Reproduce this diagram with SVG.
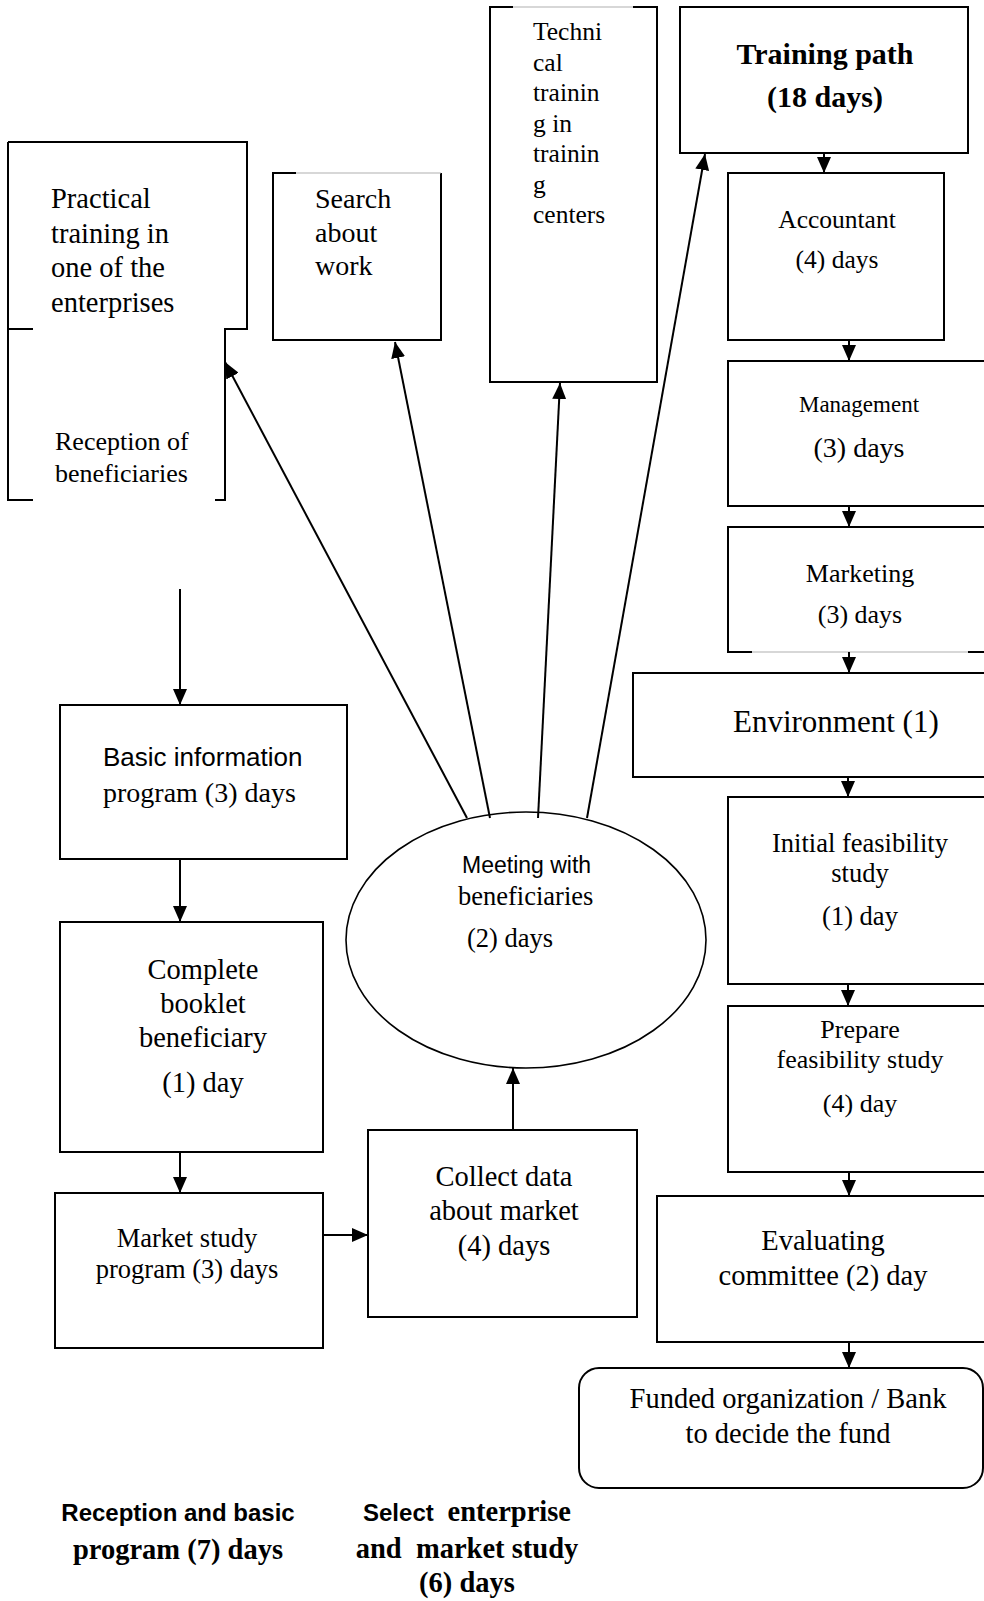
<svg xmlns="http://www.w3.org/2000/svg" width="984" height="1601" viewBox="0 0 984 1601">
<style>
.bx{fill:#fff;stroke:#000;stroke-width:2}
.ln{fill:none;stroke:#000;stroke-width:2}
.gl{fill:none;stroke:#b0b0b0;stroke-width:1.2}
.ar{fill:none;stroke:#000;stroke-width:2;marker-end:url(#ah)}
.s{font-family:"Liberation Serif","Times New Roman",serif;fill:#000}
.ss{font-family:"Liberation Sans",Arial,sans-serif;fill:#000}
.c{text-anchor:middle}
</style>
<defs>
<marker id="ah" viewBox="0 0 16 14" refX="16" refY="7" markerWidth="16" markerHeight="14" markerUnits="userSpaceOnUse" orient="auto">
<path d="M0,0 L16,7 L0,14 z" fill="#000"/>
</marker>
</defs>
<rect width="984" height="1601" fill="#fff"/>

<g id="practical-reception">
<path class="ln" d="M8,142 H247 V329 H225 V500 H215"/>
<path class="ln" d="M8,142 V500 H33"/>
<path class="ln" d="M8,329 H33"/>
<text class="s" font-size="28.5" x="51"><tspan x="51" y="208">Practical</tspan><tspan x="51" y="243">training in</tspan><tspan x="51" y="277">one of the</tspan><tspan x="51" y="312">enterprises</tspan></text>
<text class="s" font-size="26" x="55"><tspan x="55" y="450">Reception of</tspan><tspan x="55" y="482">beneficiaries</tspan></text>
</g>

<g id="search">
<path class="ln" d="M296,173 H273 V340 H441 V173"/>
<path class="gl" d="M296,173 H441"/>
<text class="s" font-size="28"><tspan x="315" y="208">Search</tspan><tspan x="315" y="242">about</tspan><tspan x="315" y="275">work</tspan></text>
</g>

<g id="technical">
<path class="ln" d="M513,7 H490 V382 H657 V7 H633"/>
<path class="gl" d="M513,7 H633"/>
<text class="s" font-size="25.5"><tspan x="533" y="40">Techni</tspan><tspan x="533" y="70.5">cal</tspan><tspan x="533" y="101">trainin</tspan><tspan x="533" y="131.5">g in</tspan><tspan x="533" y="162">trainin</tspan><tspan x="533" y="192.5">g</tspan><tspan x="533" y="223">centers</tspan></text>
</g>

<g id="training-path">
<rect class="bx" x="680" y="7" width="288" height="146"/>
<text class="s c" font-size="30" font-weight="bold"><tspan x="825" y="64">Training path</tspan><tspan x="825" y="107">(18 days)</tspan></text>
</g>

<g id="accountant">
<rect class="bx" x="728" y="173" width="216" height="167"/>
<text class="s c" font-size="25.5"><tspan x="837" y="228">Accountant</tspan><tspan x="837" y="268">(4) days</tspan></text>
</g>

<g id="management">
<rect class="bx" x="728" y="361" width="270" height="145"/>
<text class="s c" font-size="23" x="859" y="412">Management</text>
<text class="s c" font-size="28" x="859" y="457">(3) days</text>
</g>

<g id="marketing">
<path class="ln" d="M752,652 H728 V527 H998"/>
<path class="ln" d="M968,652 H998"/>
<path class="gl" d="M752,652 H968"/>
<text class="s c" font-size="26"><tspan x="860" y="582">Marketing</tspan><tspan x="860" y="623">(3) days</tspan></text>
</g>

<g id="environment">
<rect class="bx" x="633" y="673" width="365" height="104"/>
<text class="s" font-size="31" x="733" y="732">Environment (1)</text>
</g>

<g id="initial-feasibility">
<rect class="bx" x="728" y="797" width="270" height="187"/>
<text class="s c" font-size="26.5"><tspan x="860" y="852">Initial feasibility</tspan><tspan x="860" y="882">study</tspan><tspan x="860" y="925">(1) day</tspan></text>
</g>

<g id="prepare-feasibility">
<rect class="bx" x="728" y="1006" width="270" height="166"/>
<text class="s c" font-size="26"><tspan x="860" y="1038">Prepare</tspan><tspan x="860" y="1068">feasibility study</tspan><tspan x="860" y="1112">(4) day</tspan></text>
</g>

<g id="evaluating">
<rect class="bx" x="657" y="1196" width="341" height="146"/>
<text class="s c" font-size="28.5"><tspan x="823" y="1250">Evaluating</tspan><tspan x="823" y="1285">committee (2) day</tspan></text>
</g>

<g id="funded">
<rect class="bx" x="579" y="1368" width="404" height="120" rx="20" ry="20"/>
<text class="s c" font-size="28.5"><tspan x="788" y="1408">Funded organization / Bank</tspan><tspan x="788" y="1443">to decide the fund</tspan></text>
</g>

<g id="meeting">
<ellipse fill="#fff" stroke="#000" stroke-width="1.6" cx="526" cy="940" rx="180" ry="128"/>
<text class="ss" font-size="23" x="462" y="873">Meeting with</text>
<text class="s" font-size="26.5" x="458" y="905">beneficiaries</text>
<text class="s" font-size="26.5" x="467" y="947">(2) days</text>
</g>

<g id="basic-information">
<rect class="bx" x="60" y="705" width="287" height="154"/>
<text class="ss" font-size="26" x="103" y="766">Basic information</text>
<text class="s" font-size="28" x="103" y="802">program (3) days</text>
</g>

<g id="complete-booklet">
<rect class="bx" x="60" y="922" width="263" height="230"/>
<text class="s c" font-size="28.5"><tspan x="203" y="979">Complete</tspan><tspan x="203" y="1013">booklet</tspan><tspan x="203" y="1047">beneficiary</tspan><tspan x="203" y="1092">(1) day</tspan></text>
</g>

<g id="market-study">
<rect class="bx" x="55" y="1193" width="268" height="155"/>
<text class="s c" font-size="26.5"><tspan x="187" y="1247">Market study</tspan><tspan x="187" y="1278">program (3) days</tspan></text>
</g>

<g id="collect-data">
<rect class="bx" x="368" y="1130" width="269" height="187"/>
<text class="s c" font-size="28.5"><tspan x="504" y="1186">Collect data</tspan><tspan x="504" y="1220">about market</tspan><tspan x="504" y="1255">(4) days</tspan></text>
</g>

<g id="phase-labels">
<text class="ss c" font-size="24" font-weight="bold" x="178" y="1521">Reception and basic</text>
<text class="s c" font-size="28.5" font-weight="bold" x="178" y="1559">program (7) days</text>
<text class="c" font-size="28.5" font-weight="bold" x="467" y="1521"><tspan class="ss" font-size="24">Select&#160;</tspan><tspan class="s"> enterprise</tspan></text>
<text class="s c" font-size="28.5" font-weight="bold" x="467" y="1558">and&#160; market study</text>
<text class="s c" font-size="28.5" font-weight="bold" x="467" y="1592">(6) days</text>
</g>

<g id="connectors">
<line class="ar" x1="824" y1="153" x2="824" y2="173"/>
<line class="ar" x1="849" y1="340" x2="849" y2="361"/>
<line class="ar" x1="849" y1="506" x2="849" y2="527"/>
<line class="ar" x1="849" y1="652" x2="849" y2="673"/>
<line class="ar" x1="848" y1="777" x2="848" y2="797"/>
<line class="ar" x1="848" y1="984" x2="848" y2="1006"/>
<line class="ar" x1="849" y1="1172" x2="849" y2="1196"/>
<line class="ar" x1="849" y1="1342" x2="849" y2="1368"/>
<line class="ar" x1="180" y1="589" x2="180" y2="705"/>
<line class="ar" x1="180" y1="859" x2="180" y2="922"/>
<line class="ar" x1="180" y1="1152" x2="180" y2="1193"/>
<line class="ar" x1="323" y1="1235" x2="368" y2="1235"/>
<line class="ar" x1="513" y1="1130" x2="513" y2="1068"/>
<line class="ar" x1="467" y1="818" x2="225" y2="362"/>
<line class="ar" x1="490" y1="818" x2="395" y2="342"/>
<line class="ar" x1="538" y1="818" x2="560" y2="383"/>
<line class="ar" x1="587" y1="818" x2="705" y2="154"/>
</g>
</svg>
